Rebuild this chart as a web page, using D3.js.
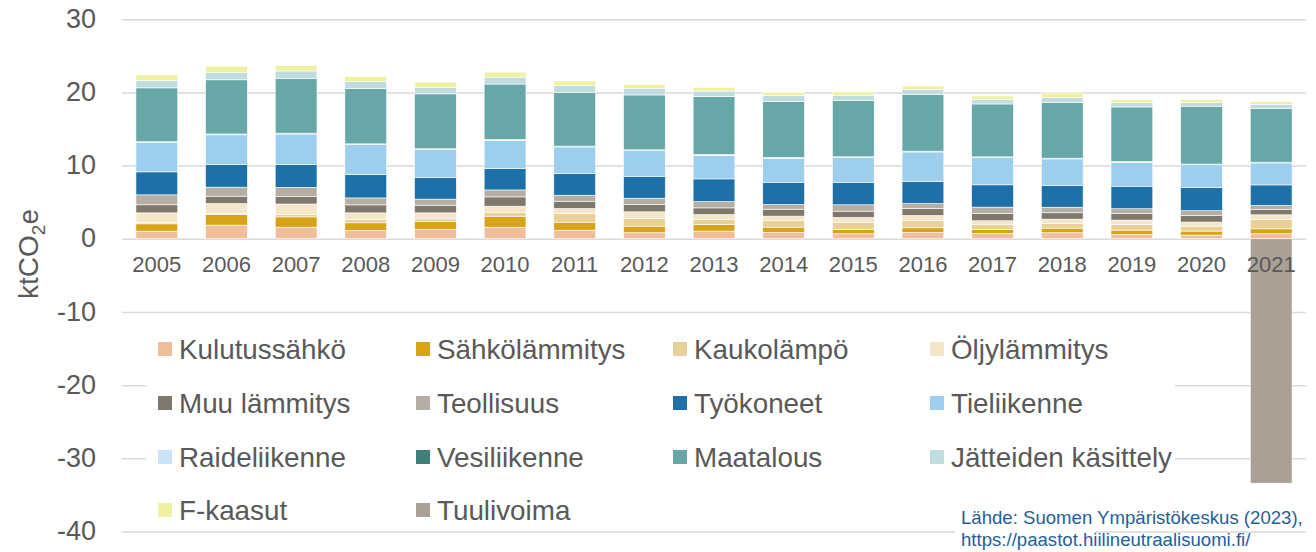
<!DOCTYPE html>
<html>
<head>
<meta charset="utf-8">
<script src="https://cdn.jsdelivr.net/npm/d3@7"></script>
<style>
  body { margin: 0; background: #fff; }
  text { font-family: "Liberation Sans", Arial, sans-serif; }
</style>
</head>
<body>
<div id="chart"></div>
<script>
// Years and emissions per sector (ktCO2e)
const years = ["2005","2006","2007","2008","2009","2010","2011","2012","2013","2014","2015","2016","2017","2018","2019","2020","2021"];

const kulutussahko = [1.04,1.86,1.58,1.13,1.27,1.58,1.17,0.82,1.04,0.86,0.68,0.86,0.72,0.82,0.59,0.50,0.68];
const sahkolammitys = [1.00,1.46,1.41,1.05,1.09,1.50,1.09,0.90,0.91,0.73,0.59,0.64,0.55,0.63,0.59,0.55,0.68];
const kaukolampo = [0.20,0.15,0.30,0.45,0.36,0.55,1.19,1.05,0.68,0.87,1.00,1.00,0.64,0.64,0.78,0.68,1.27];
const oljylammitys = [1.30,1.35,1.46,0.91,0.82,0.82,0.68,0.91,0.68,0.63,0.64,0.68,0.55,0.59,0.59,0.55,0.64];
const muuLammitys = [1.10,1.00,1.00,1.09,1.05,1.27,1.00,1.00,0.91,0.95,0.86,0.95,1.00,0.87,0.91,0.87,0.72];
const teollisuus = [1.36,1.23,1.27,0.95,0.82,0.95,0.82,0.86,0.86,0.64,0.87,0.68,0.86,0.76,0.64,0.68,0.55];
const tyokoneet = [3.14,3.10,3.10,3.18,2.96,2.96,2.96,3.00,3.10,3.04,3.08,3.00,3.05,2.96,3.08,3.18,2.82];
const tieliikenne = [4.00,4.05,4.19,4.09,3.82,3.82,3.64,3.50,3.22,3.27,3.37,4.05,3.72,3.64,3.27,3.10,3.00];
const raideliikenne = [0.07,0.07,0.07,0.07,0.06,0.06,0.06,0.06,0.06,0.06,0.06,0.06,0.05,0.05,0.05,0.05,0.05];
const vesiliikenne = [0.05,0.05,0.05,0.05,0.05,0.05,0.05,0.05,0.05,0.05,0.05,0.05,0.05,0.05,0.05,0.05,0.05];
const maatalous = [7.36,7.40,7.50,7.54,7.50,7.58,7.35,7.50,7.95,7.68,7.68,7.72,7.23,7.62,7.46,7.90,7.35];
const jatteet = [1.00,1.00,1.00,0.95,0.86,0.95,0.91,0.90,0.73,0.78,0.73,0.68,0.63,0.68,0.59,0.55,0.55];
const fKaasut = [0.78,0.86,0.73,0.73,0.73,0.68,0.64,0.55,0.50,0.45,0.46,0.50,0.46,0.60,0.41,0.37,0.37];
const tuulivoima = [0,0,0,0,0,0,0,0,0,0,0,0,0,0,0,0,-33.4];

const seriesNames = ["Kulutussähkö","Sähkölämmitys","Kaukolämpö","Öljylämmitys","Muu lämmitys","Teollisuus","Työkoneet","Tieliikenne","Raideliikenne","Vesiliikenne","Maatalous","Jätteiden käsittely","F-kaasut","Tuulivoima"];
const seriesValues = [kulutussahko, sahkolammitys, kaukolampo, oljylammitys, muuLammitys, teollisuus, tyokoneet, tieliikenne, raideliikenne, vesiliikenne, maatalous, jatteet, fKaasut, tuulivoima];
const seriesColors = ["#f0be9a","#d6a319","#e8d096","#f4e6c8","#7f786c","#b4aea4","#1d71a8","#9dceee","#c8e4f6","#3f7f7c","#67a7a7","#c0dcdc","#eef2a0","#a9a195"];
const yTicks = [30,20,10,0,-10,-20,-30,-40];

const width = 1316, height = 552;
const left = 122, right = 1306;

const svg = d3.select("#chart")
        .append("svg")
        .attr("width", width)
        .attr("height", height);

const x = d3.scaleBand()
        .domain(years)
        .range([left, right])
        .paddingInner(0.4)
        .paddingOuter(0.2);

const y = d3.scaleLinear()
        .domain([-40, 30])
        .range([531.5, 19.2]);

// rows for the stack, one per year
const rows = years.map((yr, i) => {
    const r = {year: yr};
    seriesNames.forEach((n, s) => r[n] = seriesValues[s][i]);
    return r;
});

const stacked = d3.stack()
        .keys(seriesNames)
        .offset(d3.stackOffsetDiverging)(rows);

// gridlines + y tick labels (plain hyphen for negatives)
const yAxis = svg.append("g")
        .attr("transform", "translate(" + left + ",0)")
        .call(d3.axisLeft(y).tickValues(yTicks).tickSize(-(right - left)).tickPadding(26).tickFormat(d => String(d)));
yAxis.select(".domain").remove();
yAxis.selectAll("line").attr("stroke", "#d9d9d9").attr("stroke-width", 1.5);
yAxis.selectAll("text")
        .attr("fill", "#595959")
        .attr("font-size", 27)
        .attr("dy", "0.3em");

// bars
svg.selectAll(".layer")
        .data(stacked)
        .enter()
            .append("g")
            .attr("class", "layer")
            .attr("fill", (d, i) => seriesColors[i])
            .selectAll("rect")
            .data(d => d)
            .enter()
                .append("rect")
                .attr("x", d => x(d.data.year))
                .attr("width", x.bandwidth())
                .attr("y", d => y(Math.max(d[0], d[1])))
                .attr("height", d => Math.abs(y(d[0]) - y(d[1])))
                .attr("stroke", "#fff")
                .attr("stroke-width", 0.6);

// year labels
const xAxis = svg.append("g")
        .attr("transform", "translate(0," + y(0) + ")")
        .call(d3.axisBottom(x).tickSize(0));
xAxis.select(".domain").remove();
xAxis.selectAll("text")
        .attr("fill", "#595959")
        .attr("font-size", 22)
        .attr("y", 0)
        .attr("dy", "1.5em");

// y axis title
svg.append("text")
        .attr("transform", "translate(38,254) rotate(-90)")
        .attr("text-anchor", "middle")
        .attr("fill", "#595959")
        .attr("font-size", 28)
        .text("ktCO")
        .append("tspan").attr("font-size", 19).attr("dy", 7).text("2")
        .select(function() { return this.parentNode; })
        .append("tspan").attr("dy", -7).text("e");

// legend, on a white box that hides the gridlines
svg.append("rect")
        .attr("x", 146).attr("y", 322)
        .attr("width", 1029).attr("height", 206)
        .attr("fill", "#fff");

const colX = [158, 416, 673, 930];
const rowY = [349, 403, 457, 510];

const legend = svg.selectAll(".legend")
        .data(seriesNames)
        .enter()
            .append("g")
            .attr("class", "legend")
            .attr("transform", (d, i) => "translate(" + colX[i % 4] + "," + rowY[Math.floor(i / 4)] + ")");

legend.append("rect")
        .attr("x", 0).attr("y", -7)
        .attr("width", 14).attr("height", 14)
        .attr("fill", (d, i) => seriesColors[i]);

legend.append("text")
        .attr("x", 21)
        .attr("dy", "0.36em")
        .attr("font-size", 27.8)
        .attr("fill", "#595959")
        .text(d => d);

// source note
svg.append("rect")
        .attr("x", 955).attr("y", 505)
        .attr("width", 140).attr("height", 47)
        .attr("fill", "#fff");

const source = svg.append("text")
        .attr("x", 961)
        .attr("font-size", 18.6)
        .attr("fill", "#1f5f9a");
source.append("tspan").attr("x", 961).attr("y", 524).text("Lähde: Suomen Ympäristökeskus (2023),");
source.append("tspan").attr("x", 961).attr("y", 546).text("https://paastot.hiilineutraalisuomi.fi/");
</script>
</body>
</html>
